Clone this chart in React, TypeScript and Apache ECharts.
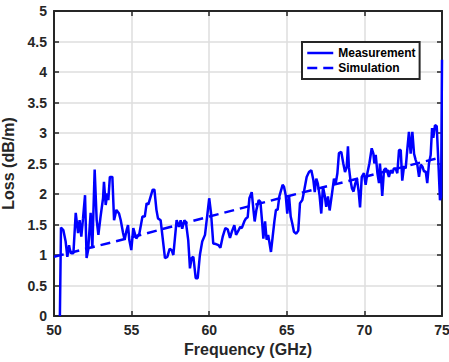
import React, { useEffect, useRef } from "react";
import * as echarts from "echarts";

const measFreq = [
  50.38, 50.45, 50.6, 50.75, 50.86, 50.97, 51.03, 51.12, 51.25, 51.4, 51.55, 51.65, 51.76, 51.87, 52.0, 52.1,
  52.2, 52.36, 52.47, 52.62, 52.75, 52.86, 53.0, 53.16, 53.22, 53.33, 53.44, 53.5, 53.6, 53.76, 53.87, 54.02,
  54.19, 54.3, 54.45, 54.55, 54.68, 54.77, 54.85, 54.98, 55.11, 55.3, 55.5, 55.7, 55.85, 55.97, 56.08, 56.23,
  56.36, 56.47, 56.6, 56.7, 56.87, 57.15, 57.3, 57.45, 57.58, 57.69, 57.9, 58.05, 58.16, 58.26, 58.4, 58.5,
  58.65, 58.76, 58.87, 58.98, 59.13, 59.26, 59.4, 59.55, 59.73, 60.0, 60.12, 60.26, 60.43, 60.6, 60.72, 60.87,
  61.04, 61.19, 61.34, 61.47, 61.62, 61.73, 61.86, 62.0, 62.1, 62.26, 62.37, 62.48, 62.59, 62.74, 62.85, 62.93,
  63.04, 63.19, 63.3, 63.4, 63.49, 63.6, 63.7, 63.8, 63.98, 64.09, 64.2, 64.3, 64.41, 64.52, 64.73, 64.82,
  64.93, 65.03, 65.14, 65.25, 65.35, 65.46, 65.61, 65.74, 65.85, 66.0, 66.1, 66.28, 66.43, 66.58, 66.71, 66.8,
  66.9, 67.0, 67.11, 67.22, 67.33, 67.44, 67.54, 67.65, 67.76, 67.93, 68.04, 68.15, 68.26, 68.36, 68.51, 68.64,
  68.75, 68.86, 68.94, 69.0, 69.1, 69.2, 69.3, 69.41, 69.52, 69.63, 69.72, 69.83, 69.97, 70.08, 70.19, 70.32,
  70.47, 70.58, 70.64, 70.73, 70.84, 70.94, 71.0, 71.07, 71.15, 71.26, 71.37, 71.47, 71.58, 71.69, 71.8, 71.9,
  72.01, 72.12, 72.23, 72.34, 72.44, 72.55, 72.66, 72.76, 72.87, 72.98, 73.09, 73.2, 73.3, 73.41, 73.52, 73.63,
  73.74, 73.84, 73.95, 74.05, 74.16, 74.27, 74.36, 74.44, 74.55, 74.66, 74.76, 74.87, 74.94, 75.0,
];
const measLoss = [
  0.0, 1.45, 1.41, 1.22, 0.97, 1.16, 1.08, 1.03, 1.03, 1.69, 1.36, 1.57, 1.3, 1.6, 1.98, 0.95,
  1.08, 1.69, 1.11, 2.4, 1.57, 1.33, 1.63, 1.93, 2.2, 1.82, 2.01, 1.9, 2.28, 2.28, 1.57, 1.74,
  1.68, 1.57, 1.36, 1.25, 1.41, 1.49, 1.25, 1.08, 1.44, 1.27, 1.35, 1.63, 1.63, 1.85, 1.83, 1.96,
  2.07, 2.07, 1.74, 1.6, 1.57, 0.95, 0.97, 1.1, 1.08, 1.0, 1.57, 1.46, 1.57, 1.43, 1.57, 1.54,
  1.24, 0.78, 0.95, 0.97, 0.62, 0.62, 1.0, 1.22, 1.33, 1.93, 1.68, 1.19, 1.18, 1.16, 1.12, 1.3,
  1.44, 1.42, 1.28, 1.39, 1.49, 1.33, 1.39, 1.46, 1.44, 1.55, 1.6, 1.62, 1.93, 2.03, 1.74, 1.55,
  1.74, 1.9, 1.87, 1.57, 1.27, 1.55, 1.25, 1.33, 1.05, 1.3, 1.55, 1.74, 1.74, 1.96, 2.15, 2.12,
  1.98, 1.68, 1.98, 1.63, 1.52, 1.38, 1.35, 1.4, 1.85, 1.9, 2.03, 2.28, 2.36, 2.39, 2.23, 2.03,
  2.25, 2.17, 1.98, 1.68, 2.12, 1.98, 1.79, 1.96, 1.73, 2.04, 2.25, 2.17, 2.34, 2.67, 2.69, 2.5,
  2.36, 2.44, 2.78, 2.44, 2.23, 2.09, 2.04, 2.17, 2.25, 2.04, 1.78, 2.28, 2.34, 2.15, 2.34, 2.5,
  2.75, 2.66, 2.5, 2.64, 2.34, 2.18, 2.5, 2.28, 1.97, 2.39, 2.42, 2.37, 2.28, 2.39, 2.34, 2.42,
  2.42, 2.34, 2.72, 2.72, 2.22, 2.45, 2.42, 2.72, 3.02, 2.66, 3.02, 2.66, 2.56, 2.48, 2.28, 2.48,
  2.45, 2.37, 2.37, 2.18, 2.5, 2.64, 3.08, 2.92, 3.13, 3.11, 2.56, 1.9, 1.95, 4.2,
];
const simFreq = [50, 55, 60, 65, 70, 74.6];
const simLoss = [0.97, 1.29, 1.63, 1.96, 2.28, 2.58];

const FONT = "'Liberation Sans', Arial, Helvetica, sans-serif";
const AXIS_COLOR = "#262626";
const BLUE = "#0000ff";
const DASH = [10, 6];

export default function App() {
  const ref = useRef<HTMLDivElement>(null);
  useEffect(() => {
    if (!ref.current) return;
    const chart = echarts.init(ref.current, null, { renderer: "svg" });
    const axisLine = { show: true, onZero: false, lineStyle: { color: AXIS_COLOR, width: 2 } };
    const axisTick = { show: true, inside: true, length: 5, lineStyle: { color: AXIS_COLOR, width: 1.5 } };
    const labelStyle = { fontSize: 14, fontWeight: "bold", color: AXIS_COLOR, fontFamily: FONT };
    const nameStyle = { fontSize: 16, fontWeight: "bold", color: AXIS_COLOR, fontFamily: FONT };
    const splitLine = { show: true, lineStyle: { color: "#dedede", width: 1.5 } };
    chart.setOption({
      animation: false,
      backgroundColor: "#ffffff",
      grid: { left: 54, right: 7, top: 11, bottom: 46, containLabel: false, outerBoundsMode: "none" },
      legend: {
        data: [
          { name: "Measurement", lineStyle: { color: BLUE, width: 2.5, type: "solid" } },
          { name: "Simulation", lineStyle: { color: BLUE, width: 2.5, type: DASH } },
        ],
        orient: "vertical",
        left: 302,
        top: 42,
        itemWidth: 26,
        itemHeight: 12,
        itemGap: 3,
        itemTextGap: 3,
        padding: [5, 4, 5, 4],
        borderColor: AXIS_COLOR,
        borderWidth: 2,
        backgroundColor: "#ffffff",
        itemStyle: { opacity: 0 },
        textStyle: { fontSize: 12, fontWeight: "bold", color: "#000000", fontFamily: FONT },
      },
      xAxis: [
        {
          type: "value",
          min: 50,
          max: 75,
          interval: 5,
          position: "bottom",
          axisLine,
          axisTick,
          axisLabel: { ...labelStyle, margin: 7 },
          splitLine,
          name: "Frequency (GHz)",
          nameLocation: "middle",
          nameGap: 25,
          nameTextStyle: nameStyle,
        },
        {
          type: "value",
          min: 50,
          max: 75,
          interval: 5,
          position: "top",
          axisLine,
          axisTick,
          axisLabel: { show: false },
          splitLine: { show: false },
        },
      ],
      yAxis: [
        {
          type: "value",
          min: 0,
          max: 5,
          interval: 0.5,
          position: "left",
          axisLine,
          axisTick,
          axisLabel: { ...labelStyle, margin: 7 },
          splitLine,
          name: "Loss (dB/m)",
          nameLocation: "middle",
          nameGap: 27,
          nameTextStyle: nameStyle,
        },
        {
          type: "value",
          min: 0,
          max: 5,
          interval: 0.5,
          position: "right",
          axisLine,
          axisTick,
          axisLabel: { show: false },
          splitLine: { show: false },
        },
      ],
      series: [
        {
          name: "Measurement",
          type: "line",
          xAxisIndex: 0,
          yAxisIndex: 0,
          data: measFreq.map((f, i) => [f, measLoss[i]]),
          symbol: "none",
          lineStyle: { color: BLUE, width: 2.5 },
          itemStyle: { color: BLUE },
          silent: true,
        },
        {
          name: "Simulation",
          type: "line",
          xAxisIndex: 0,
          yAxisIndex: 0,
          data: simFreq.map((f, i) => [f, simLoss[i]]),
          symbol: "none",
          lineStyle: { color: BLUE, width: 2.5, type: DASH },
          itemStyle: { color: BLUE },
          silent: true,
        },
      ],
    });
    return () => chart.dispose();
  }, []);
  return (
    <div
      ref={ref}
      style={{ position: "fixed", left: 0, top: 0, width: 449, height: 362, background: "#fff" }}
    />
  );
}
